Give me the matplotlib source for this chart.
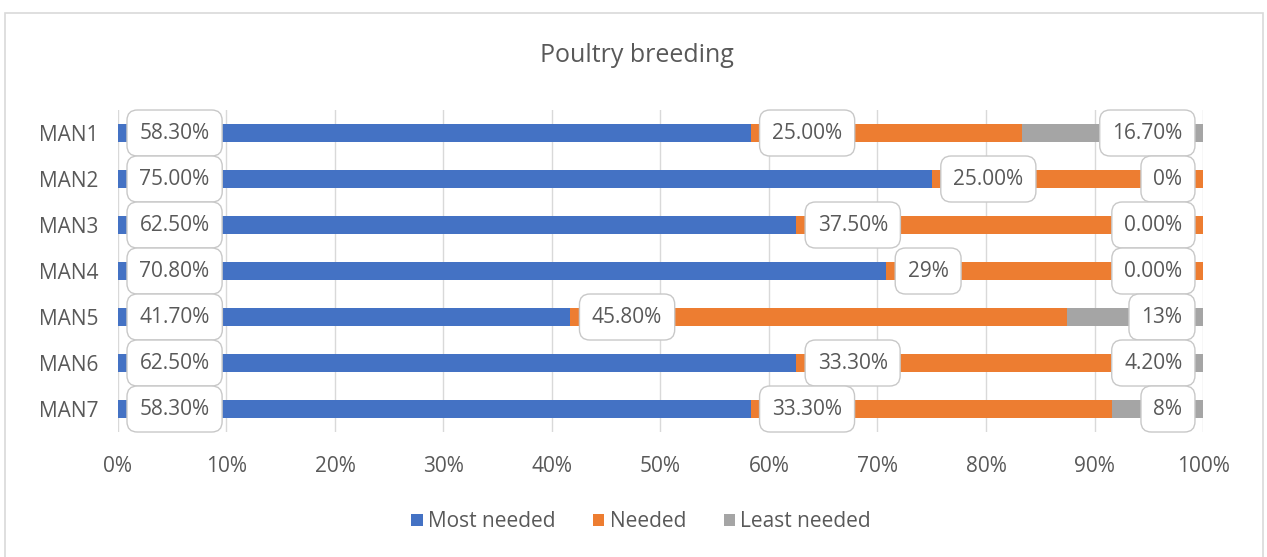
import matplotlib
matplotlib.use('Agg')
import matplotlib.pyplot as plt
import matplotlib.patches as patches
import numpy as np

plt.rcParams['font.family'] = ['Open Sans', 'DejaVu Sans']

categories = ['MAN1', 'MAN2', 'MAN3', 'MAN4', 'MAN5', 'MAN6', 'MAN7']
most_needed = [58.3, 75.0, 62.5, 70.8, 41.7, 62.5, 58.3]
needed = [25.0, 25.0, 37.5, 29.2, 45.8, 33.3, 33.3]
least_needed = [16.7, 0.0, 0.0, 0.0, 12.5, 4.2, 8.4]
most_labels = ['58.30%', '75.00%', '62.50%', '70.80%', '41.70%', '62.50%', '58.30%']
needed_labels = ['25.00%', '25.00%', '37.50%', '29%', '45.80%', '33.30%', '33.30%']
least_labels = ['16.70%', '0%', '0.00%', '0.00%', '13%', '4.20%', '8%']
series_names = ['Most needed', 'Needed', 'Least needed']
colors = ['#4472C4', '#ED7D31', '#A5A5A5']

txt = '#595959'
fs = 15


def main():
    fig = plt.figure(figsize=(12.67, 5.57), dpi=100)
    ax = fig.add_axes([0.0931, 0.2244, 0.8564, 0.5781])

    # chart border
    fig.patches.append(patches.Rectangle((5 / 1267, -0.02), 1258 / 1267, 1 - 13 / 557 + 0.02,
                                         transform=fig.transFigure, fill=False,
                                         edgecolor='#d9d9d9', lw=1.2))

    y = np.arange(len(categories))
    most = np.array(most_needed)
    need = np.array(needed)
    least = np.array(least_needed)
    h = 0.37
    ax.barh(y, most, height=h, color=colors[0], label=series_names[0], zorder=2)
    ax.barh(y, need, left=most, height=h, color=colors[1], label=series_names[1], zorder=2)
    ax.barh(y, least, left=most + need, height=h, color=colors[2], label=series_names[2], zorder=2)

    box = dict(boxstyle='round,pad=0.6,rounding_size=0.5', fc='white', ec='#c8c8c8', lw=1)
    for i in range(len(categories)):
        ax.annotate(most_labels[i], xy=(0, y[i]), xytext=(15.5, 0), textcoords='offset points',
                    ha='left', va='center', fontsize=fs, color=txt, bbox=box, zorder=4)
        ax.annotate(needed_labels[i], xy=(most[i], y[i]), xytext=(15.5, 0), textcoords='offset points',
                    ha='left', va='center', fontsize=fs, color=txt, bbox=box, zorder=4)
        ax.annotate(least_labels[i], xy=(100, y[i]), xytext=(-14.8, 0), textcoords='offset points',
                    ha='right', va='center', fontsize=fs, color=txt, bbox=box, zorder=4)

    ax.set_xlim(0, 100)
    ax.set_ylim(len(categories) - 0.5, -0.5)
    ax.set_xticks(np.arange(0, 101, 10))
    ax.set_xticklabels(['%d%%' % v for v in range(0, 101, 10)])
    ax.set_yticks(y)
    ax.set_yticklabels(categories)
    ax.tick_params(axis='x', length=0, pad=17, labelsize=fs, labelcolor=txt)
    ax.tick_params(axis='y', length=0, pad=14, labelsize=fs, labelcolor=txt)
    ax.grid(axis='x', color='#d9d9d9', lw=1, zorder=0)
    for s in ax.spines.values():
        s.set_visible(False)

    fig.text(0.503, 0.90, 'Poultry breeding', ha='center', va='center', fontsize=18, color=txt)

    fig.legend(loc='center', bbox_to_anchor=(0.506, 0.063), ncol=3, frameon=False,
               fontsize=fs, labelcolor=txt, handlelength=0.55, handleheight=0.55,
               handletextpad=0.25, columnspacing=1.8)

    fig.savefig('out.png', dpi=100)


if __name__ == '__main__':
    main()
